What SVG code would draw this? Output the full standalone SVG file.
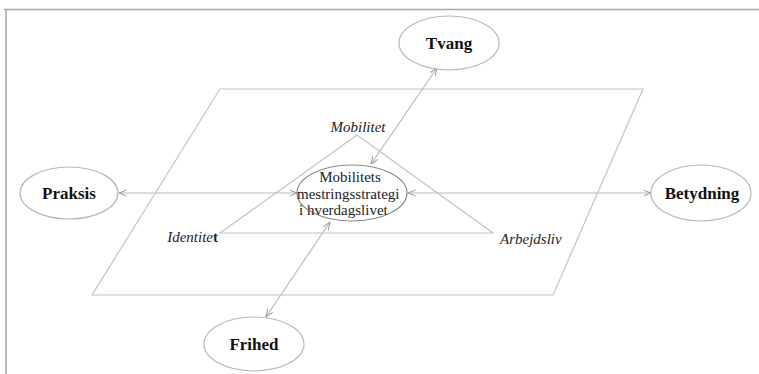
<svg xmlns="http://www.w3.org/2000/svg" width="759" height="374" viewBox="0 0 759 374">
  <defs>
    <marker id="tip" viewBox="0 0 8 8" refX="7.5" refY="4" markerWidth="8" markerHeight="8" markerUnits="userSpaceOnUse" orient="auto-start-reverse">
      <path d="M0,1 L7.5,4 L0,7" fill="none" stroke="#9a9a9a" stroke-width="1"/>
    </marker>
  </defs>
  <style>
    .frame { stroke: #a8a8a8; stroke-width: 1.5; fill: none; }
    .plane { stroke: #c4c4c4; stroke-width: 1.2; fill: none; }
    .conn { stroke: #bcbcbc; stroke-width: 1.2; fill: none; marker-start: url(#tip); marker-end: url(#tip); }
    .node { fill: #ffffff; stroke: #b8b8b8; stroke-width: 1.2; }
    .core { fill: #ffffff; stroke: #8a8a8a; stroke-width: 1.2; }
    .lbl { font-family: "Liberation Serif", "Times New Roman", serif; font-size: 17px; font-weight: bold; fill: #111; text-anchor: middle; }
    .core-t { font-family: "Liberation Serif", "Times New Roman", serif; font-size: 15px; fill: #222; }
    .dim { font-family: "Liberation Serif", "Times New Roman", serif; font-size: 15px; font-style: italic; fill: #222; }
  </style>
  <rect width="759" height="374" fill="#ffffff"/>

  <!-- page frame -->
  <path class="frame" d="M4,9.5 H759 M6,9 V374"/>

  <!-- parallelogram plane -->
  <path class="plane" d="M220,89 L643,89 L553,295 L92,295 Z"/>

  <!-- triangle of dimensions -->
  <path class="plane" d="M357,135 L220,233 L493,233 Z"/>

  <g id="connectors">
    <line class="conn" x1="119" y1="193" x2="297" y2="193"/>
    <line class="conn" x1="408" y1="193" x2="651" y2="193"/>
    <line class="conn" x1="437" y1="68" x2="371" y2="164"/>
    <line class="conn" x1="266" y1="317" x2="330" y2="222"/>
  </g>

  <g id="center">
    <ellipse class="core" cx="352" cy="193" rx="55" ry="28"/>
    <text class="core-t" x="350" y="182" text-anchor="middle">Mobilitets</text>
    <text class="core-t" x="297" y="198.5">mestringsstrategi</text>
    <text class="core-t" x="299" y="215">i hverdagslivet</text>
  </g>

  <g id="tvang">
    <ellipse class="node" cx="449" cy="43" rx="50" ry="27"/>
    <text class="lbl" x="449" y="49">Tvang</text>
  </g>

  <g id="praksis">
    <ellipse class="node" cx="69" cy="193" rx="49" ry="26"/>
    <text class="lbl" x="69" y="199">Praksis</text>
  </g>

  <g id="betydning">
    <ellipse class="node" cx="701" cy="193" rx="50" ry="28"/>
    <text class="lbl" x="702" y="199">Betydning</text>
  </g>

  <g id="frihed">
    <ellipse class="node" cx="254" cy="344" rx="50" ry="27"/>
    <text class="lbl" x="254" y="350">Frihed</text>
  </g>

  <g id="dimensions">
    <text class="dim" x="358" y="132" text-anchor="middle" font-size="15.5">Mobilitet</text>
    <text class="dim" x="218" y="242" text-anchor="end" font-size="16">Identite<tspan font-weight="bold" font-style="normal">t</tspan></text>
    <text class="dim" x="500" y="244" font-size="14.5">Arbejdsliv</text>
  </g>
</svg>
